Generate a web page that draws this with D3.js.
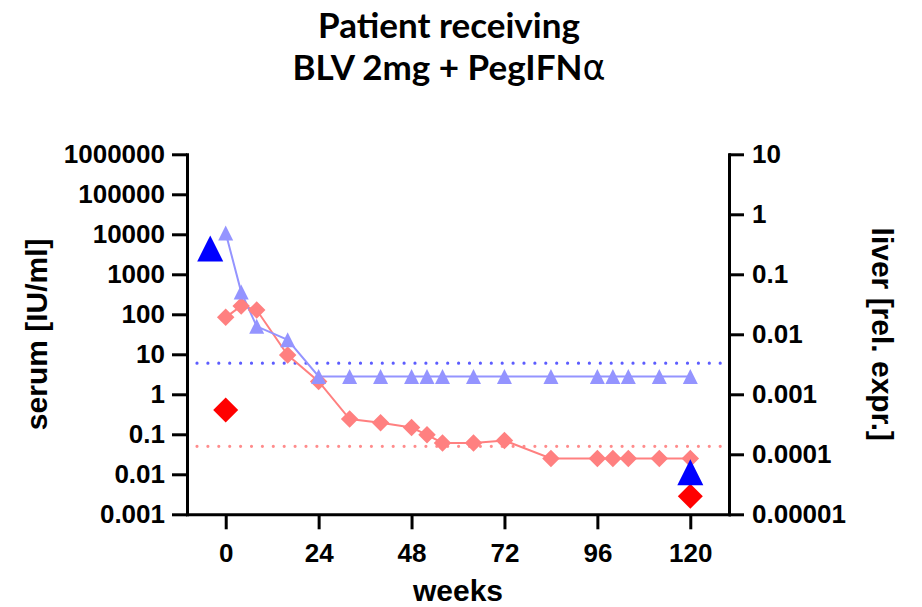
<!DOCTYPE html>
<html>
<head>
<meta charset="utf-8">
<script src="https://cdn.jsdelivr.net/npm/d3@7"></script>
<style>
  html, body { margin: 0; padding: 0; background: #fff; }
  svg { display: block; }
  .axis text { font-family: "Liberation Sans", Arial, sans-serif; font-weight: bold; font-size: 26px; fill: #000; }
  .axis path, .axis line { stroke: #000; stroke-width: 3px; }
  .axis path { stroke-linecap: square; }
  .title { font-family: Lato, "Open Sans", sans-serif; font-weight: bold; font-size: 35px; fill: #000; }
  .alabel { font-family: "Liberation Sans", Arial, sans-serif; font-weight: bold; font-size: 30px; fill: #000; }
</style>
</head>
<body>
<svg id="chart" width="922" height="607"></svg>
<script>
// Time points (weeks on treatment)
const weeks = [0, 4, 8, 16, 24, 32, 40, 48, 52, 56, 64, 72, 84, 96, 100, 104, 112, 120];

// Serum values [IU/ml]
const serumTriangle = [10800, 360, 50, 23, 2.8, 2.8, 2.8, 2.8, 2.8, 2.8, 2.8, 2.8, 2.8, 2.8, 2.8, 2.8, 2.8, 2.8];
const serumDiamond  = [84, 162, 128, 9.6, 2.1, 0.24, 0.195, 0.148, 0.097, 0.061, 0.061, 0.07, 0.025, 0.025, 0.025, 0.025, 0.025, 0.025];

// Serum detection limits [IU/ml]
const limitTriangle = 6;
const limitDiamond = 0.05;

// Liver values [rel. expr.]
const liverWeeksTriangle = [-4, 120];
const liverTriangle = [0.27, 0.00005];
const liverWeeksDiamond = [0, 120];
const liverDiamond = [0.00055, 0.00002];

// Axis ticks
const xTicks = [0, 24, 48, 72, 96, 120];
const yLeftTicks = [1e6, 1e5, 1e4, 1e3, 100, 10, 1, 0.1, 0.01, 0.001];
const yLeftLabels = ["1000000", "100000", "10000", "1000", "100", "10", "1", "0.1", "0.01", "0.001"];
const yRightTicks = [10, 1, 0.1, 0.01, 0.001, 0.0001, 0.00001];
const yRightLabels = ["10", "1", "0.1", "0.01", "0.001", "0.0001", "0.00001"];

const colPink = "#ff8080", colLightBlue = "#9494ff", colBlue = "#0000ff", colRed = "#ff0000";
const colBlueDot = "#5c5cff", colPinkDot = "#ff8c8c";

const svg = d3.select("#chart");
const plot = { left: 187, right: 729, top: 154.3, bottom: 514.3 };

const x = d3.scaleLinear().domain([-10, 130]).range([plot.left, plot.right]);
const yL = d3.scaleLog().domain([0.001, 1e6]).range([plot.bottom, plot.top]);
const yR = d3.scaleLog().domain([0.00001, 10]).range([plot.bottom, plot.top]);

// Marker shapes centred on their bounding box
const triangleType = { draw(ctx, size) { const h = Math.sqrt(size); ctx.moveTo(0, -h / 2); ctx.lineTo(h / 2, h / 2); ctx.lineTo(-h / 2, h / 2); ctx.closePath(); } };
const diamondType = { draw(ctx, size) { const r = Math.sqrt(size) / 2; ctx.moveTo(0, -r); ctx.lineTo(r, 0); ctx.lineTo(0, r); ctx.lineTo(-r, 0); ctx.closePath(); } };
const triSmall = d3.symbol().type(triangleType).size(15 * 15);
const triBig = d3.symbol().type(triangleType).size(26 * 26);
const diaSmall = d3.symbol().type(diamondType).size(17.5 * 17.5);
const diaBig = d3.symbol().type(diamondType).size(25 * 25);

// Axes
const gL = svg.append("g").attr("class", "axis").attr("transform", `translate(${plot.left},0)`)
  .call(d3.axisLeft(yL).tickValues(yLeftTicks).tickFormat((d, i) => yLeftLabels[i]).tickSize(15).tickSizeOuter(0).tickPadding(7));
const gR = svg.append("g").attr("class", "axis").attr("transform", `translate(${plot.right},0)`)
  .call(d3.axisRight(yR).tickValues(yRightTicks).tickFormat((d, i) => yRightLabels[i]).tickSize(15).tickSizeOuter(0).tickPadding(8));
const gB = svg.append("g").attr("class", "axis").attr("transform", `translate(0,${plot.bottom})`)
  .call(d3.axisBottom(x).tickValues(xTicks).tickFormat(d3.format("d")).tickSize(15).tickSizeOuter(0).tickPadding(14));
[gL, gR, gB].forEach(g => g.selectAll("text").attr("font-family", null).attr("font-size", null));

// Detection limit lines
const dotted = (val, col) => svg.append("line")
  .attr("x1", plot.left).attr("x2", plot.right)
  .attr("y1", yL(val)).attr("y2", yL(val))
  .attr("stroke", col).attr("stroke-width", 3.2).attr("stroke-linecap", "round")
  .attr("stroke-dasharray", "0 10.9").attr("stroke-dashoffset", 0.9);
dotted(limitTriangle, colBlueDot);
dotted(limitDiamond, colPinkDot);

// Serum series lines
const lineL = d3.line().x(d => x(d[0])).y(d => yL(d[1]));
const pinkPts = weeks.map((w, i) => [w, serumDiamond[i]]);
const bluePts = weeks.map((w, i) => [w, serumTriangle[i]]);
svg.append("path").datum(pinkPts).attr("d", lineL).attr("fill", "none").attr("stroke", colPink).attr("stroke-width", 2);
svg.append("path").datum(bluePts).attr("d", lineL).attr("fill", "none").attr("stroke", colLightBlue).attr("stroke-width", 2);

// Serum markers
svg.append("g").selectAll("path").data(pinkPts).join("path")
  .attr("d", diaSmall).attr("fill", colPink)
  .attr("transform", d => `translate(${x(d[0])},${yL(d[1])})`);
svg.append("g").selectAll("path").data(bluePts).join("path")
  .attr("d", triSmall).attr("fill", colLightBlue)
  .attr("transform", d => `translate(${x(d[0])},${yL(d[1])})`);

// Liver markers (right axis)
svg.append("g").selectAll("path").data(liverWeeksDiamond.map((w, i) => [w, liverDiamond[i]])).join("path")
  .attr("d", diaBig).attr("fill", colRed)
  .attr("transform", d => `translate(${x(d[0])},${yR(d[1])})`);
svg.append("g").selectAll("path").data(liverWeeksTriangle.map((w, i) => [w, liverTriangle[i]])).join("path")
  .attr("d", triBig).attr("fill", colBlue)
  .attr("transform", d => `translate(${x(d[0])},${yR(d[1])})`);

// Titles
const t = svg.append("text").attr("class", "title").attr("text-anchor", "middle").attr("x", 449);
t.append("tspan").attr("x", 449).attr("y", 38).text("Patient receiving");
const t2 = t.append("tspan").attr("x", 449).attr("y", 80).text("BLV 2mg + PegIFN");
t2.append("tspan").attr("font-family", "DejaVu Sans").attr("font-weight", "normal").text("α");

svg.append("text").attr("class", "alabel").attr("text-anchor", "middle")
  .attr("x", (plot.left + plot.right) / 2).attr("y", 601).text("weeks");
svg.append("text").attr("class", "alabel").attr("text-anchor", "middle")
  .attr("transform", `translate(47,${(plot.top + plot.bottom) / 2}) rotate(-90)`).text("serum [IU/ml]");
svg.append("text").attr("class", "alabel").attr("text-anchor", "middle")
  .attr("transform", `translate(872,${(plot.top + plot.bottom) / 2}) rotate(90)`).text("liver [rel. expr.]");
</script>
</body>
</html>
